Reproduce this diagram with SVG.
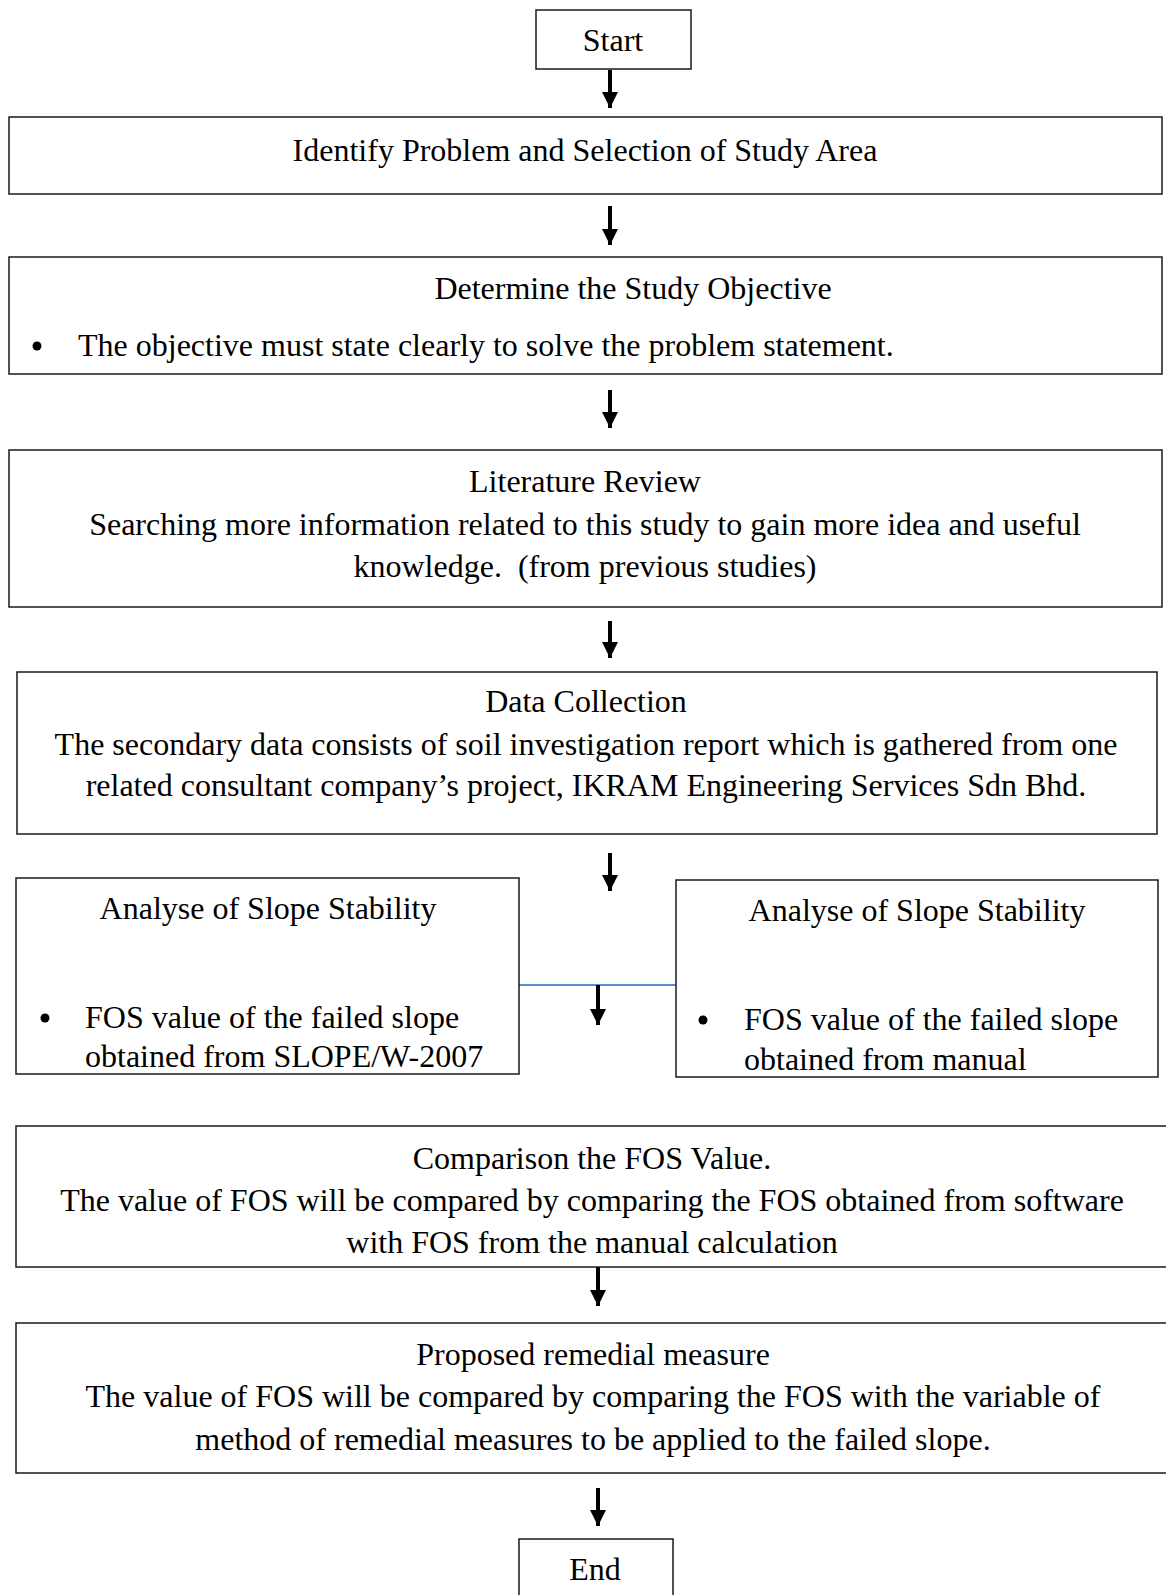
<svg xmlns="http://www.w3.org/2000/svg" width="1166" height="1595" viewBox="0 0 1166 1595">
<style>
.box{fill:#fff;stroke:#1a1a1a;stroke-width:1.5}
.t{font-family:"Liberation Serif","Times New Roman",serif;font-size:32px;fill:#000}
.c{text-anchor:middle}
.arr{stroke:#000;stroke-width:4;fill:none;marker-end:url(#ah)}
</style>
<defs>
<marker id="ah" markerWidth="17" markerHeight="16" refX="16" refY="8" orient="auto" markerUnits="userSpaceOnUse">
<path d="M0,0 L16,8 L0,16 Z" fill="#000"/>
</marker>
</defs>
<g id="connectors">
<line x1="519" y1="985" x2="676" y2="985" stroke="#5b8fd0" stroke-width="2"/>
<line class="arr" x1="610" y1="70" x2="610" y2="108"/>
<line class="arr" x1="610" y1="206" x2="610" y2="245"/>
<line class="arr" x1="610" y1="390" x2="610" y2="428"/>
<line class="arr" x1="610" y1="621" x2="610" y2="658"/>
<line class="arr" x1="610" y1="853" x2="610" y2="891"/>
<line class="arr" x1="598" y1="985" x2="598" y2="1025"/>
<line class="arr" x1="598" y1="1267" x2="598" y2="1306"/>
<line class="arr" x1="598" y1="1488" x2="598" y2="1526"/>
</g>
<g id="start">
<rect class="box" x="536" y="10" width="155" height="59"/>
<text class="t c" x="613" y="51">Start</text>
</g>
<g id="identify">
<rect class="box" x="9" y="117" width="1153" height="77"/>
<text class="t c" x="585" y="161">Identify Problem and Selection of Study Area</text>
</g>
<g id="objective">
<rect class="box" x="9" y="257" width="1153" height="117"/>
<text class="t c" x="633" y="299">Determine the Study Objective</text>
<circle cx="37" cy="346" r="4.5" fill="#000"/>
<text class="t" x="78" y="356">The objective must state clearly to solve the problem statement.</text>
</g>
<g id="literature">
<rect class="box" x="9" y="450" width="1153" height="157"/>
<text class="t c" x="585" y="492">Literature Review</text>
<text class="t c" x="585" y="535">Searching more information related to this study to gain more idea and useful</text>
<text class="t c" x="585" y="577" xml:space="preserve">knowledge.  (from previous studies)</text>
</g>
<g id="data">
<rect class="box" x="17" y="672" width="1140" height="162"/>
<text class="t c" x="586" y="712">Data Collection</text>
<text class="t c" x="586" y="755">The secondary data consists of soil investigation report which is gathered from one</text>
<text class="t c" x="586" y="796">related consultant company’s project, IKRAM Engineering Services Sdn Bhd.</text>
</g>
<g id="analyse-left">
<rect class="box" x="16" y="878" width="503" height="196"/>
<text class="t c" x="268" y="919">Analyse of Slope Stability</text>
<circle cx="45" cy="1018" r="4.5" fill="#000"/>
<text class="t" x="85" y="1028">FOS value of the failed slope</text>
<text class="t" x="85" y="1067">obtained from SLOPE/W-2007</text>
</g>
<g id="analyse-right">
<rect class="box" x="676" y="880" width="482" height="197"/>
<text class="t c" x="917" y="921">Analyse of Slope Stability</text>
<circle cx="703" cy="1020" r="4.5" fill="#000"/>
<text class="t" x="744" y="1030">FOS value of the failed slope</text>
<text class="t" x="744" y="1070">obtained from manual</text>
</g>
<g id="comparison">
<rect class="box" x="16" y="1126" width="1160" height="141"/>
<text class="t c" x="592" y="1169">Comparison the FOS Value.</text>
<text class="t c" x="592" y="1211">The value of FOS will be compared by comparing the FOS obtained from software</text>
<text class="t c" x="592" y="1253">with FOS from the manual calculation</text>
</g>
<g id="remedial">
<rect class="box" x="16" y="1323" width="1160" height="150"/>
<text class="t c" x="593" y="1365">Proposed remedial measure</text>
<text class="t c" x="593" y="1407">The value of FOS will be compared by comparing the FOS with the variable of</text>
<text class="t c" x="593" y="1450">method of remedial measures to be applied to the failed slope.</text>
</g>
<g id="end">
<rect class="box" x="519" y="1539" width="154" height="70"/>
<text class="t c" x="595" y="1580">End</text>
</g>
</svg>
